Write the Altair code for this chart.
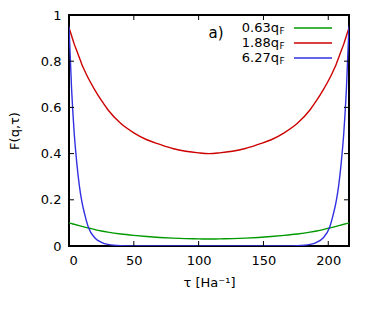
import altair as alt
import pandas as pd

tau = [0, 2, 4, 6, 8, 10, 12, 15, 20, 25, 30, 40, 50, 60, 70, 80, 90, 100, 108,
       116, 126, 136, 146, 156, 166, 176, 186, 191, 196, 201, 204, 206, 208, 210, 212, 214, 216]
green = [0.10, 0.097, 0.094, 0.091, 0.088, 0.085, 0.082, 0.078, 0.071, 0.065, 0.060, 0.052, 0.046,
         0.041, 0.037, 0.034, 0.032, 0.031, 0.030,
         0.031, 0.032, 0.034, 0.037, 0.041, 0.046, 0.052, 0.060, 0.065, 0.071, 0.078, 0.082, 0.085,
         0.088, 0.091, 0.094, 0.097, 0.10]
red = [0.945, 0.91, 0.875, 0.845, 0.815, 0.785, 0.76, 0.725, 0.675, 0.63, 0.59, 0.53, 0.49,
       0.46, 0.44, 0.422, 0.41, 0.403, 0.40,
       0.403, 0.41, 0.422, 0.44, 0.46, 0.49, 0.53, 0.59, 0.63, 0.675, 0.725, 0.76, 0.785,
       0.815, 0.845, 0.875, 0.91, 0.945]
blue = [0.95, 0.68, 0.49, 0.36, 0.26, 0.19, 0.14, 0.08, 0.035, 0.016, 0.007, 0.0015, 0.0003,
        0.0, 0.0, 0.0, 0.0, 0.0, 0.0,
        0.0, 0.0, 0.0, 0.0, 0.0, 0.0003, 0.0015, 0.007, 0.016, 0.035, 0.08, 0.14, 0.19,
        0.26, 0.36, 0.49, 0.68, 0.95]
labels = ["0.63q", "1.88q", "6.27q"]
colors = ["#009a00", "#cc0000", "#3030e0"]
x_ticks = [0, 50, 100, 150, 200]
y_ticks = [0, 0.2, 0.4, 0.6, 0.8, 1.0]

rows = []
for name, vals in zip(labels, [green, red, blue]):
    for t, v in zip(tau, vals):
        rows.append({"tau": t, "F": v, "series": name})
df = pd.DataFrame(rows)

W, H = 280, 231
FONT = "DejaVu Sans"
FS = 13
xs = alt.Scale(domain=[0, 216], nice=False)
ys = alt.Scale(domain=[0, 1], nice=False)

lines = alt.Chart(df).mark_line(strokeWidth=1.4, clip=True, interpolate="monotone").encode(
    x=alt.X("tau:Q", scale=xs,
            axis=alt.Axis(title="τ [Ha⁻¹]", values=x_ticks, tickSize=0, labelPadding=8,
                          domain=False, grid=False, titlePadding=9)),
    y=alt.Y("F:Q", scale=ys,
            axis=alt.Axis(title="F(q,τ)", values=y_ticks, tickSize=0, labelPadding=8,
                          domain=False, grid=False, titlePadding=19,
                          labelExpr="datum.value == 0 ? '0' : datum.value == 1 ? '1' : format(datum.value, '.1f')")),
    color=alt.Color("series:N", scale=alt.Scale(domain=labels, range=colors), legend=None),
)

xt = pd.DataFrame({"x": x_ticks})
yt = pd.DataFrame({"y": y_ticks})
tb = alt.Chart(xt).mark_rule(color="black", strokeWidth=1).encode(
    x=alt.X("x:Q", scale=xs), y=alt.value(H), y2=alt.value(H - 5))
tt = alt.Chart(xt).mark_rule(color="black", strokeWidth=1).encode(
    x=alt.X("x:Q", scale=xs), y=alt.value(0), y2=alt.value(5))
tl = alt.Chart(yt).mark_rule(color="black", strokeWidth=1).encode(
    y=alt.Y("y:Q", scale=ys), x=alt.value(0), x2=alt.value(5))
tr = alt.Chart(yt).mark_rule(color="black", strokeWidth=1).encode(
    y=alt.Y("y:Q", scale=ys), x=alt.value(W), x2=alt.value(W - 5))

legend_layers = []
row_y = [13, 28, 43]
for lab, col, ry in zip(labels, colors, row_y):
    d = pd.DataFrame({"label": [lab], "sub": ["F"]})
    legend_layers.append(alt.Chart(d).mark_text(
        align="right", baseline="middle", font=FONT, fontSize=FS, color="black").encode(
        x=alt.value(210), y=alt.value(ry), text="label:N"))
    legend_layers.append(alt.Chart(d).mark_text(
        align="left", baseline="middle", font=FONT, fontSize=9, dy=3, color="black").encode(
        x=alt.value(210.5), y=alt.value(ry), text="sub:N"))
    legend_layers.append(alt.Chart(d).mark_rule(strokeWidth=1.4, color=col).encode(
        x=alt.value(225), x2=alt.value(263), y=alt.value(ry)))

panel = alt.Chart(pd.DataFrame({"t": ["a)"]})).mark_text(
    align="center", baseline="middle", font=FONT, fontSize=15, color="black").encode(
    x=alt.value(147), y=alt.value(18), text="t:N")

chart = alt.layer(lines, tb, tt, tl, tr, *legend_layers, panel).properties(
    width=W, height=H,
    autosize=alt.AutoSizeParams(type="none"),
    padding={"left": 61, "top": 7, "right": 17, "bottom": 55},
    background="white",
).configure_view(stroke="black", strokeWidth=2).configure_axis(
    labelFont=FONT, titleFont=FONT, labelFontSize=FS, titleFontSize=FS,
    labelColor="black", titleColor="black", titleFontWeight="normal")

chart.save("out.html", embed_options={"renderer": "svg", "actions": False})
